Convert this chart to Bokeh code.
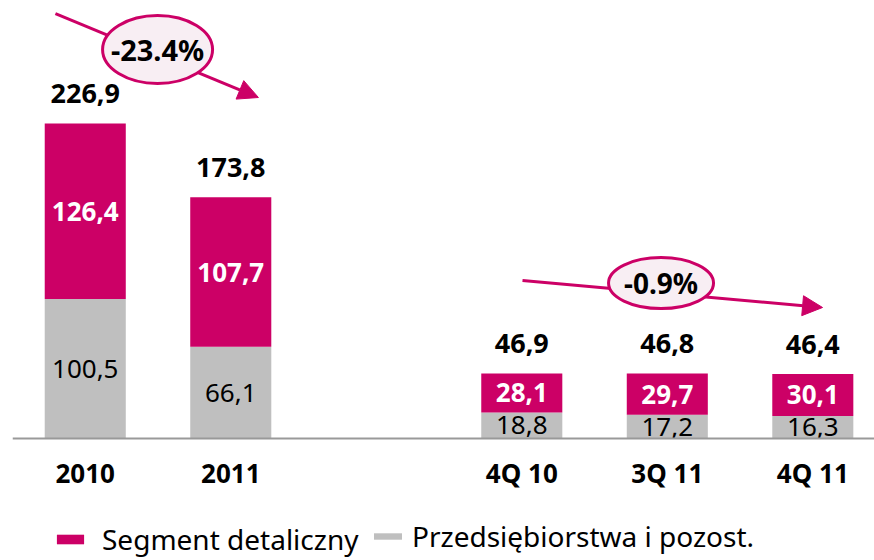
from bokeh.plotting import figure
from bokeh.models import ColumnDataSource, Range1d, FixedTicker, Arrow, NormalHead, Legend, LegendItem
from bokeh.core.properties import value
from bokeh.embed import file_html
from bokeh.resources import INLINE

# ---- data ----
categories = ["2010", "2011", "4Q 10", "3Q 11", "4Q 11"]
slots = [0, 1, 3, 4, 5]
retail = [126.4, 107.7, 28.1, 29.7, 30.1]        # Segment detaliczny
business = [100.5, 66.1, 18.8, 17.2, 16.3]      # Przedsiębiorstwa i pozost.
totals = [226.9, 173.8, 46.9, 46.8, 46.4]
changes = ["-23.4%", "-0.9%"]
series_names = ["Segment detaliczny", "Przedsiębiorstwa i pozost."]

MAGENTA = "#CC0066"
GREY = "#BFBFBF"
FONT = value("Noto Sans")


def fmt(v):
    return f"{v:.1f}".replace(".", ",")


src = ColumnDataSource(dict(
    x=slots,
    retail=retail,
    business=business,
    total=totals,
    retail_mid=[b + r / 2 for b, r in zip(business, retail)],
    business_mid=[b / 2 for b in business],
    retail_lbl=[fmt(v) for v in retail],
    business_lbl=[fmt(v) for v in business],
    total_lbl=[fmt(v) for v in totals],
))

p = figure(width=874, height=560,
           x_range=Range1d(-0.5, 5.424), y_range=Range1d(-87.9, 315.6),
           output_backend="svg", toolbar_location=None,
           y_axis_location=None,
           min_border_left=12, min_border_right=0, min_border_top=0, min_border_bottom=0,
           outline_line_color=None, background_fill_color="white")
p.grid.visible = False

ax = p.xaxis[0]
ax.fixed_location = 0
ax.ticker = FixedTicker(ticks=slots)
ax.major_label_overrides = {s: c for s, c in zip(slots, categories)}
ax.axis_line_color = "#999999"
ax.axis_line_width = 2
ax.major_tick_line_color = None
ax.minor_tick_line_color = None
ax.major_label_text_font = "Noto Sans"
ax.major_label_text_font_style = "bold"
ax.major_label_text_font_size = "26px"
ax.major_label_text_color = "black"
ax.major_label_standoff = 10

bars = p.vbar_stack(["business", "retail"], x="x", width=0.557, source=src,
                    fill_color=[GREY, MAGENTA], line_color=None)

# value labels
p.text(x="x", y="total", text="total_lbl", source=src, text_align="center",
       text_baseline="alphabetic", y_offset=-30, text_font=FONT,
       text_font_style="bold", text_font_size="27px", text_color="black")
p.text(x="x", y="retail_mid", text="retail_lbl", source=src, text_align="center",
       text_baseline="middle", text_font=FONT, text_font_style="bold",
       text_font_size="26px", text_color="white")
p.text(x="x", y="business_mid", text="business_lbl", source=src, text_align="center",
       text_baseline="middle", text_font=FONT, text_font_size="26px",
       text_color="black")

# change annotations (arrows + ellipses), positioned relative to the compared bars
arrows = [
    (slots[0] - 0.205, totals[0] + 79.3, slots[1] + 0.19, totals[1] + 71.9),
    (slots[2] + 0.005, totals[2] + 66.9, slots[4] + 0.067, totals[4] + 48.0),
]
for xs, ys, xe, ye in arrows:
    p.add_layout(Arrow(end=NormalHead(size=20, fill_color=MAGENTA, line_color=MAGENTA),
                       x_start=xs, y_start=ys, x_end=xe, y_end=ye,
                       line_color=MAGENTA, line_width=3, level="underlay"))

ell_x = [(slots[0] + slots[1]) / 2 - 0.003, (slots[2] + slots[4]) / 2 - 0.043]
ell_y = [totals[0] + 53.4, totals[2] + 65.1]
p.ellipse(x=ell_x, y=ell_y, width=[110, 105], height=[68, 51],
          width_units="screen", height_units="screen",
          fill_color="#F8EEF3", line_color=MAGENTA, line_width=3)
p.text(x=ell_x, y=ell_y, text=changes, text_align="center", text_baseline="middle",
       text_font=FONT, text_font_style="bold", text_font_size=["29px", "28px"],
       text_color="black")

# legend (two separate boxes, as in the original)
business_r, retail_r = bars
common = dict(orientation="horizontal", padding=0, margin=0, border_line_alpha=0,
              background_fill_alpha=0, label_text_font="Noto Sans",
              label_text_font_size="28px", label_text_color="black")
legend1 = Legend(items=[LegendItem(label=series_names[0], renderers=[retail_r])],
                 location=(41, 2), glyph_width=34, glyph_height=12,
                 label_standoff=15, **common)
legend2 = Legend(items=[LegendItem(label=series_names[1], renderers=[business_r])],
                 location=(358, 5), glyph_width=35, glyph_height=8,
                 label_standoff=7, **common)
p.add_layout(legend1)
p.add_layout(legend2)

open("out.html", "w").write(file_html(p, INLINE))
